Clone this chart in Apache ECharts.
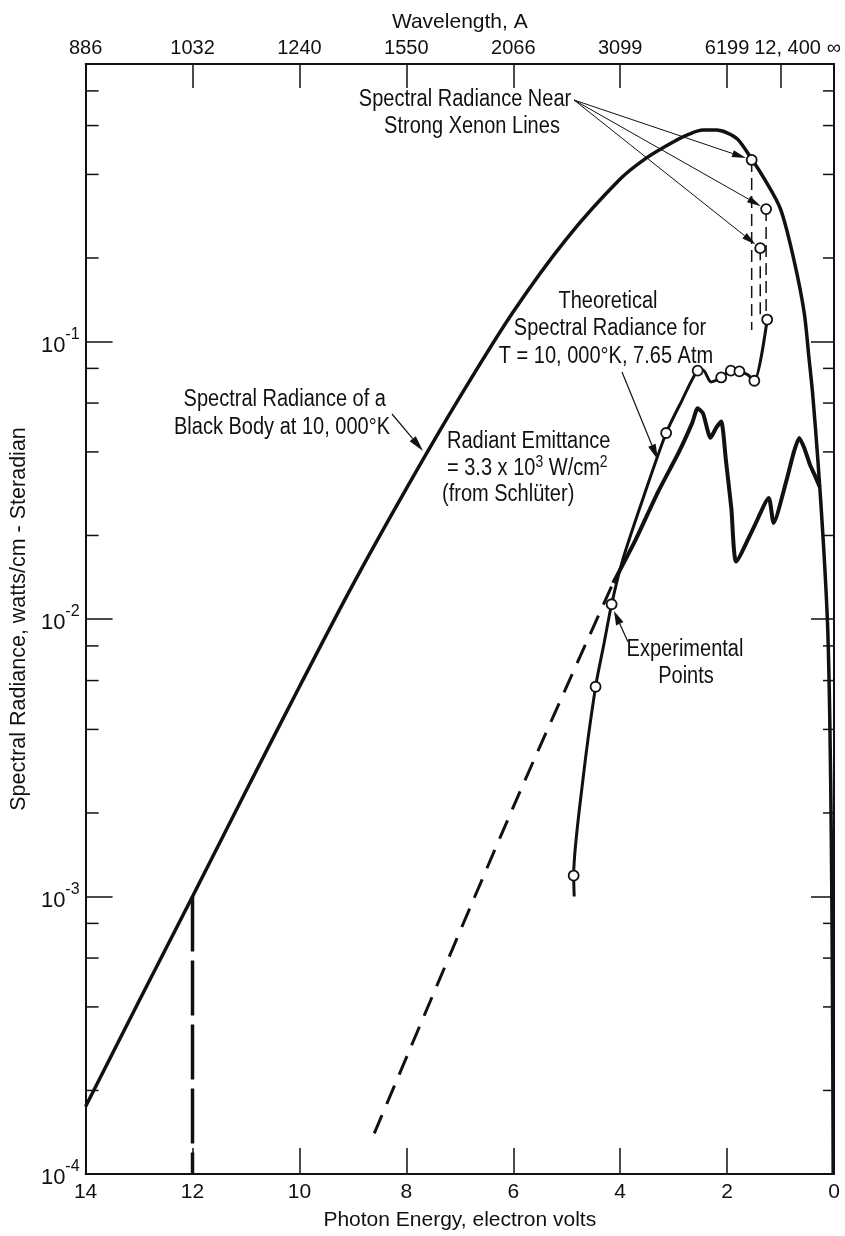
<!DOCTYPE html>
<html>
<head>
<meta charset="utf-8">
<title>Spectral Radiance vs Photon Energy</title>
<script src="https://cdn.jsdelivr.net/npm/echarts@6/dist/echarts.min.js"></script>
<style>
  html, body { margin: 0; padding: 0; background: #ffffff; }
  #chart { width: 845px; height: 1236px; }
</style>
</head>
<body>
<div id="chart"></div>
<script>
// Black body at 10,000 K: photon energy (eV) and spectral radiance
const blackBodyEnergy   = [14, 13, 12, 11, 10, 9, 8, 7, 6, 5, 4, 3.5, 3, 2.7, 2.45, 2.2, 2, 1.8, 1.54, 1.3, 1.0, 0.75, 0.56, 0.47, 0.4, 0.3, 0.2, 0.12, 0.08, 0.05, 0.03, 0.015];
const blackBodyRadiance = [1.75e-4, 4.2e-4, 1.0e-3, 2.4e-3, 5.7e-3, 1.33e-2, 2.95e-2, 6.3e-2, 0.128, 0.235, 0.385, 0.46, 0.525, 0.56, 0.578, 0.578, 0.565, 0.535, 0.455, 0.385, 0.30, 0.197, 0.128, 0.088, 0.065, 0.037, 0.019, 0.0095, 0.0045, 0.0016, 5e-4, 1e-4];

// Theoretical spectral radiance, T = 10,000 K, 7.65 atm (Schlüter)
const theoryEnergy   = [4.13, 3.7, 3.3, 2.9, 2.65, 2.55, 2.45, 2.31, 2.2, 2.11, 2.02, 1.92, 1.83, 1.5, 1.22, 1.13, 0.9, 0.75, 0.65, 0.55, 0.45, 0.36, 0.27];
const theoryRadiance = [0.0135, 0.0195, 0.0285, 0.040, 0.051, 0.0575, 0.055, 0.045, 0.049, 0.0515, 0.037, 0.025, 0.0161, 0.0214, 0.0273, 0.0222, 0.031, 0.040, 0.0449, 0.041, 0.036, 0.033, 0.030];

// Extrapolation of the theoretical curve to higher energies
const extrapEnergy   = [8.6, 6.0, 4.13];
const extrapRadiance = [1.4e-4, 2.1e-3, 0.0135];

// Experimental curve and measured points
const expCurveEnergy   = [4.86, 4.87, 4.69, 4.46, 4.30, 4.16, 3.95, 3.55, 3.14, 2.85, 2.55, 2.45, 2.30, 2.11, 1.93, 1.77, 1.62, 1.49, 1.25];
const expCurveRadiance = [1.0e-3, 1.19e-3, 2.7e-3, 5.7e-3, 8.2e-3, 1.13e-2, 1.64e-2, 2.8e-2, 0.0468, 0.061, 0.0785, 0.079, 0.0715, 0.0742, 0.0785, 0.078, 0.076, 0.0722, 0.12];
const expPointEnergy   = [4.87, 4.46, 4.16, 3.14, 2.55, 2.11, 1.93, 1.77, 1.49, 1.25];
const expPointRadiance = [1.19e-3, 5.7e-3, 1.13e-2, 0.0468, 0.0785, 0.0742, 0.0785, 0.078, 0.0722, 0.12];

// Spectral radiance near strong xenon lines (peak and foot of each dashed drop)
const xenonEnergy = [1.54, 1.38, 1.27];
const xenonPeak   = [0.451, 0.217, 0.30];
const xenonFoot   = [0.11, 0.125, 0.122];

// Axis ticks
const wavelengthEnergy = [14, 12, 10, 8, 6, 4, 2, 1, 0];
const wavelengthLabels = ['886', '1032', '1240', '1550', '2066', '3099', '6199', '12, 400', '\u221e'];
const wavelengthTickEnergy = [12, 10, 8, 6, 4, 2, 1];
const minorTickValues = [
  2e-4, 4e-4, 6e-4, 8e-4,
  2e-3, 4e-3, 6e-3, 8e-3,
  2e-2, 4e-2, 6e-2, 8e-2,
  2e-1, 4e-1, 6e-1, 8e-1
];

const INK = '#111111';
const FONT = '"Liberation Sans", Arial, sans-serif';
const NARROW = 0.87;   // horizontal squeeze for the condensed annotation lettering

const pairs = (xs, ys) => xs.map((x, i) => [x, ys[i]]);

const chart = echarts.init(document.getElementById('chart'), null, { renderer: 'canvas' });

const labelMap = {};
wavelengthEnergy.forEach((e, i) => { labelMap[e] = wavelengthLabels[i]; });

const supRich = {
  b: { fontSize: 22, fontFamily: FONT, color: INK, lineHeight: 30, verticalAlign: 'bottom' },
  s: { fontSize: 16, fontFamily: FONT, color: INK, lineHeight: 30, verticalAlign: 'top' }
};

const xenonSeries = xenonEnergy.map((e, i) => ({
  type: 'line',
  data: [[e, xenonPeak[i]], [e, xenonFoot[i]]],
  symbol: 'none',
  lineStyle: { color: INK, width: 1.5, type: [12, 6] },
  z: 3,
  silent: true
}));

chart.setOption({
  animation: false,
  backgroundColor: '#ffffff',
  textStyle: { fontFamily: FONT, color: INK },
  grid: { left: 84, right: 11, top: 64, bottom: 61, containLabel: false },
  xAxis: [
    {
      type: 'value', position: 'bottom', inverse: true,
      min: 0, max: 14, interval: 2,
      axisLine: { onZero: false, lineStyle: { color: INK, width: 2 } },
      axisTick: { inside: true, length: 26, lineStyle: { color: INK, width: 1.5 } },
      axisLabel: { color: INK, fontSize: 21, fontFamily: FONT, margin: 8, showMinLabel: true, showMaxLabel: true },
      splitLine: { show: false },
      name: 'Photon Energy, electron volts', nameLocation: 'middle', nameGap: 36,
      nameTextStyle: { fontSize: 21, fontFamily: FONT, color: INK }
    },
    {
      type: 'value', position: 'top', inverse: true,
      min: 0, max: 14, interval: 1,
      axisLine: { onZero: false, lineStyle: { color: INK, width: 2 } },
      axisTick: { inside: true, length: 24, customValues: wavelengthTickEnergy, lineStyle: { color: INK, width: 1.5 } },
      axisLabel: {
        color: INK, fontSize: 20, fontFamily: FONT, margin: 6,
        customValues: wavelengthEnergy,
        formatter: v => {
          const s = labelMap[v];
          if (s === undefined) return '';
          return v === 1 ? '{r|' + s + '}' : s;
        },
        rich: { r: { fontSize: 20, fontFamily: FONT, color: INK, padding: [0, 0, 0, 14] } }
      },
      splitLine: { show: false },
      name: 'Wavelength, A', nameLocation: 'middle', nameGap: 30,
      nameTextStyle: { fontSize: 21, fontFamily: FONT, color: INK }
    }
  ],
  yAxis: [
    {
      type: 'log', logBase: 10, min: 1e-4, max: 1, position: 'left',
      axisLine: { show: true, onZero: false, lineStyle: { color: INK, width: 2 } },
      axisTick: { show: true, inside: true, length: 27, lineStyle: { color: INK, width: 1.5 } },
      axisLabel: {
        margin: 6,
        formatter: v => {
          const e = Math.round(Math.log10(v));
          return e === 0 ? '' : '{b|10}{s|' + e + '}';
        },
        rich: supRich
      },
      splitLine: { show: false },
      name: 'Spectral Radiance, watts/cm - Steradian', nameLocation: 'middle', nameGap: 50,
      nameTextStyle: { fontSize: 21.5, fontFamily: FONT, color: INK }
    },
    {
      type: 'log', logBase: 10, min: 1e-4, max: 1, position: 'right',
      axisLine: { show: true, onZero: false, lineStyle: { color: INK, width: 2 } },
      axisTick: { show: true, inside: true, length: 23, lineStyle: { color: INK, width: 1.5 } },
      axisLabel: { show: false },
      splitLine: { show: false }
    }
  ],
  series: [
    {
      // minor ticks at 2, 4, 6, 8 of each decade on both frame edges
      type: 'custom',
      silent: true,
      clip: false,
      data: minorTickValues.map(v => [0, v]),
      renderItem: (params, api) => {
        const v = api.value(1);
        const l = api.coord([14, v]);
        const r = api.coord([0, v]);
        const st = { stroke: INK, lineWidth: 1.5 };
        return {
          type: 'group',
          children: [
            { type: 'line', shape: { x1: l[0], y1: l[1], x2: l[0] + 13, y2: l[1] }, style: st },
            { type: 'line', shape: { x1: r[0], y1: r[1], x2: r[0] - 11, y2: r[1] }, style: st }
          ]
        };
      },
      z: 2
    },
    {
      name: 'Black body 10,000 K',
      type: 'line',
      data: pairs(blackBodyEnergy, blackBodyRadiance),
      symbol: 'none', smooth: 0.3,
      lineStyle: { color: INK, width: 3.5 },
      z: 3, silent: true
    },
    {
      name: 'Theoretical (Schlüter)',
      type: 'line',
      data: pairs(theoryEnergy, theoryRadiance),
      symbol: 'none', smooth: 0.2,
      lineStyle: { color: INK, width: 4 },
      z: 3, silent: true
    },
    {
      name: 'Extrapolation',
      type: 'line',
      data: pairs(extrapEnergy, extrapRadiance),
      symbol: 'none', smooth: 0.3,
      lineStyle: { color: INK, width: 3, type: [20, 12] },
      z: 3, silent: true
    },
    {
      name: '12 eV drop',
      type: 'line',
      data: [[12, blackBodyRadiance[blackBodyEnergy.indexOf(12)]], [12, 1e-4]],
      symbol: 'none',
      lineStyle: { color: INK, width: 3.5, type: [55, 9] },
      z: 3, silent: true
    },
    {
      name: 'Experimental curve',
      type: 'line',
      data: pairs(expCurveEnergy, expCurveRadiance),
      symbol: 'none', smooth: 0.25,
      lineStyle: { color: INK, width: 3 },
      z: 3, silent: true
    },
    ...xenonSeries,
    {
      name: 'Experimental points',
      type: 'scatter',
      data: pairs(expPointEnergy, expPointRadiance),
      symbol: 'circle', symbolSize: 10,
      itemStyle: { color: '#ffffff', borderColor: INK, borderWidth: 1.8, opacity: 1 },
      z: 5, silent: true
    },
    {
      name: 'Xenon lines',
      type: 'scatter',
      data: pairs(xenonEnergy, xenonPeak),
      symbol: 'circle', symbolSize: 10,
      itemStyle: { color: '#ffffff', borderColor: INK, borderWidth: 1.8, opacity: 1 },
      z: 5, silent: true
    }
  ]
});

// ---- annotations ----
const toPx = (e, v) => chart.convertToPixel({ xAxisIndex: 0, yAxisIndex: 0 }, [e, v]);

function arrow(from, to, width, headLen, headHalf) {
  const dx = to[0] - from[0], dy = to[1] - from[1];
  const len = Math.hypot(dx, dy);
  const ux = dx / len, uy = dy / len;
  const bx = to[0] - ux * headLen, by = to[1] - uy * headLen;
  const nx = -uy, ny = ux;
  return [
    { type: 'line', silent: true, z: 10,
      shape: { x1: from[0], y1: from[1], x2: bx, y2: by },
      style: { stroke: INK, lineWidth: width } },
    { type: 'polygon', silent: true, z: 10,
      shape: { points: [to, [bx + nx * headHalf, by + ny * headHalf], [bx - nx * headHalf, by - ny * headHalf]] },
      style: { fill: INK } }
  ];
}

function text(str, x, y, align, rich) {
  return {
    type: 'text', silent: true, z: 10, x: x, y: y, scaleX: NARROW,
    style: {
      text: str, fill: INK, fontSize: 23, fontFamily: FONT,
      align: align, verticalAlign: 'middle',
      textAlign: align, textVerticalAlign: 'middle',
      rich: rich
    }
  };
}

const noteRich = {
  s: { fontSize: 16, fontFamily: FONT, fill: INK, color: INK, verticalAlign: 'top', lineHeight: 28 }
};

const graphics = [];

// leader lines to the xenon-line values
const leaderStart = [574, 100];
xenonEnergy.forEach((e, i) => {
  const c = toPx(e, xenonPeak[i]);
  const dx = c[0] - leaderStart[0], dy = c[1] - leaderStart[1];
  const l = Math.hypot(dx, dy);
  const tip = [c[0] - dx / l * 6, c[1] - dy / l * 6];
  graphics.push(...arrow(leaderStart, tip, 1, 14, 3.5));
});
graphics.push(text('Spectral Radiance Near', 465, 100, 'center'));
graphics.push(text('Strong Xenon Lines', 472, 127, 'center'));

graphics.push(text('Theoretical', 608, 302, 'center'));
graphics.push(text('Spectral Radiance for', 610, 329, 'center'));
graphics.push(text('T = 10, 000\u00b0K, 7.65 Atm', 606, 357, 'center'));
graphics.push(...arrow([622, 372], [658, 460], 1.2, 16, 4));

graphics.push(text('Spectral Radiance of a', 386, 400, 'right'));
graphics.push(text('Black Body at 10, 000\u00b0K', 390, 428, 'right'));
graphics.push(...arrow([392, 414], [423, 451], 1.2, 16, 4));

graphics.push(text('Radiant Emittance', 447, 442, 'left'));
graphics.push(text('= 3.3 x 10{s|3} W/cm{s|2}', 447, 469, 'left', noteRich));
graphics.push(text('(from Schl\u00fcter)', 442, 495, 'left'));

graphics.push(text('Experimental', 685, 650, 'center'));
graphics.push(text('Points', 686, 677, 'center'));
graphics.push(...arrow([628, 642], [614, 611], 1.2, 14, 4));

chart.setOption({ graphic: { elements: graphics } });
</script>
</body>
</html>
